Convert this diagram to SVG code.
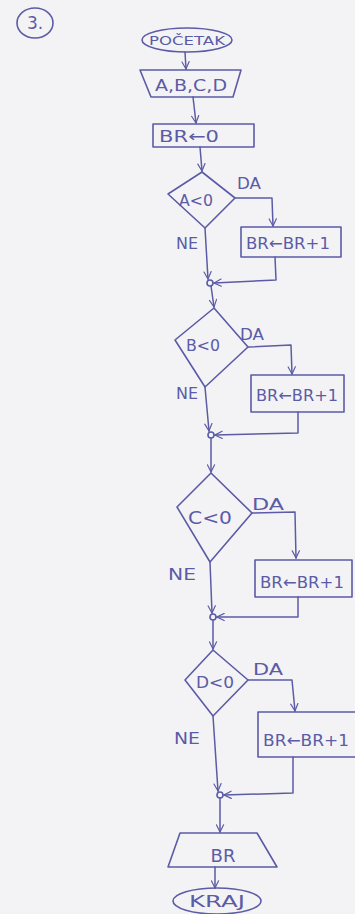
<svg xmlns="http://www.w3.org/2000/svg" width="355" height="914" viewBox="0 0 355 914">
  <defs>
    <marker id="arr" viewBox="0 0 10 10" refX="9" refY="5" markerWidth="9" markerHeight="9" markerUnits="userSpaceOnUse" orient="auto">
      <path d="M1,1 L9,5 L1,9" fill="none" stroke="#5b5ba6" stroke-width="1.3" stroke-linecap="round"/>
    </marker>
    <style>
      .ink { fill: none; stroke: #5b5ba6; stroke-width: 1.6; stroke-linejoin: round; stroke-linecap: round; }
      .conn { fill: none; stroke: #5b5ba6; stroke-width: 1.5; stroke-linejoin: round; stroke-linecap: round; marker-end: url(#arr); }
      .t { font-family: "DejaVu Sans", "Liberation Sans", sans-serif; fill: #5b5ba6; text-anchor: middle; }
      .lbl { font-size: 15px; }
      .box { font-size: 16px; }
    </style>
  </defs>

  <rect x="0" y="0" width="355" height="914" fill="#f3f3f5"/>

  <!-- task number -->
  <g id="task-number">
    <ellipse class="ink" cx="35" cy="23" rx="18" ry="15"/>
    <text class="t" x="35" y="29" font-size="17">3.</text>
  </g>

  <!-- connectors -->
  <g id="connectors">
    <path class="conn" d="M185,52 L186,69"/>
    <path class="conn" d="M193,97 L196,123"/>
    <path class="conn" d="M200,147 L202,171"/>
    <!-- A<0 -->
    <path class="conn" d="M235,198 L272,198 L273,226"/>
    <path class="conn" d="M205,228 L208,279"/>
    <path class="conn" d="M275,257 L276,280 L214,283"/>
    <path class="conn" d="M211,286 L214,307"/>
    <!-- B<0 -->
    <path class="conn" d="M248,347 L291,345 L292,374"/>
    <path class="conn" d="M205,387 L209,431"/>
    <path class="conn" d="M298,412 L298,433 L215,435"/>
    <path class="conn" d="M211,438 L211,472"/>
    <!-- C<0 -->
    <path class="conn" d="M252,513 L295,512 L296,558"/>
    <path class="conn" d="M210,562 L212,613"/>
    <path class="conn" d="M298,597 L298,617 L217,617"/>
    <path class="conn" d="M213,620 L213,649"/>
    <!-- D<0 -->
    <path class="conn" d="M248,680 L292,680 L295,711"/>
    <path class="conn" d="M213,716 L218,791"/>
    <path class="conn" d="M293,757 L293,793 L224,795"/>
    <path class="conn" d="M220,798 L220,832"/>
    <path class="conn" d="M215,867 L215,888"/>
    <!-- junction points -->
    <circle class="ink" cx="210" cy="283" r="3"/>
    <circle class="ink" cx="211" cy="435" r="3"/>
    <circle class="ink" cx="213" cy="617" r="3"/>
    <circle class="ink" cx="220" cy="795" r="3"/>
    <!-- branch labels -->
    <text class="t lbl" x="249" y="189" textLength="24" lengthAdjust="spacingAndGlyphs">DA</text>
    <text class="t lbl" x="187" y="249" textLength="22" lengthAdjust="spacingAndGlyphs">NE</text>
    <text class="t lbl" x="252" y="340" textLength="24" lengthAdjust="spacingAndGlyphs">DA</text>
    <text class="t lbl" x="187" y="399" textLength="22" lengthAdjust="spacingAndGlyphs">NE</text>
    <text class="t lbl" x="268" y="510" textLength="32" lengthAdjust="spacingAndGlyphs">DA</text>
    <text class="t lbl" x="182" y="580" textLength="28" lengthAdjust="spacingAndGlyphs">NE</text>
    <text class="t lbl" x="268" y="675" textLength="30" lengthAdjust="spacingAndGlyphs">DA</text>
    <text class="t lbl" x="187" y="744" textLength="26" lengthAdjust="spacingAndGlyphs">NE</text>
  </g>

  <g id="start">
    <ellipse class="ink" cx="187" cy="40" rx="45" ry="12"/>
    <text class="t" x="187" y="45" font-size="13" textLength="76" lengthAdjust="spacingAndGlyphs">POČETAK</text>
  </g>

  <g id="input">
    <polygon class="ink" points="140,70 241,70 233,97 151,97"/>
    <text class="t box" x="191" y="91" textLength="72" lengthAdjust="spacingAndGlyphs">A,B,C,D</text>
  </g>

  <g id="init">
    <rect class="ink" x="153" y="124" width="101" height="23"/>
    <text class="t box" x="189" y="142" textLength="60" lengthAdjust="spacingAndGlyphs">BR←0</text>
  </g>

  <g id="test-a">
    <polygon class="ink" points="202,172 235,198 205,228 168,194"/>
    <text class="t box" x="196" y="206" textLength="34" lengthAdjust="spacingAndGlyphs">A&lt;0</text>
  </g>
  <g id="inc-a">
    <rect class="ink" x="241" y="227" width="100" height="30"/>
    <text class="t box" x="288" y="249" textLength="84" lengthAdjust="spacingAndGlyphs">BR←BR+1</text>
  </g>

  <g id="test-b">
    <polygon class="ink" points="214,308 248,347 205,387 175,340"/>
    <text class="t box" x="203" y="351" textLength="34" lengthAdjust="spacingAndGlyphs">B&lt;0</text>
  </g>
  <g id="inc-b">
    <rect class="ink" x="251" y="375" width="93" height="37"/>
    <text class="t box" x="297" y="401" textLength="82" lengthAdjust="spacingAndGlyphs">BR←BR+1</text>
  </g>

  <g id="test-c">
    <polygon class="ink" points="211,473 252,513 210,562 177,507"/>
    <text class="t" x="210" y="524" font-size="18" textLength="44" lengthAdjust="spacingAndGlyphs">C&lt;0</text>
  </g>
  <g id="inc-c">
    <rect class="ink" x="255" y="560" width="97" height="37"/>
    <text class="t box" x="302" y="588" textLength="84" lengthAdjust="spacingAndGlyphs">BR←BR+1</text>
  </g>

  <g id="test-d">
    <polygon class="ink" points="213,650 248,680 213,716 185,680"/>
    <text class="t box" x="215" y="688" textLength="38" lengthAdjust="spacingAndGlyphs">D&lt;0</text>
  </g>
  <g id="inc-d">
    <rect class="ink" x="258" y="712" width="100" height="45"/>
    <text class="t box" x="306" y="746" textLength="86" lengthAdjust="spacingAndGlyphs">BR←BR+1</text>
  </g>

  <g id="output">
    <polygon class="ink" points="180,833 257,833 277,867 168,867"/>
    <text class="t" x="223" y="862" font-size="18">BR</text>
  </g>

  <g id="end">
    <ellipse class="ink" cx="217" cy="901" rx="44" ry="13"/>
    <text class="t" x="217" y="907" font-size="16" textLength="56" lengthAdjust="spacingAndGlyphs">KRAJ</text>
  </g>
</svg>
